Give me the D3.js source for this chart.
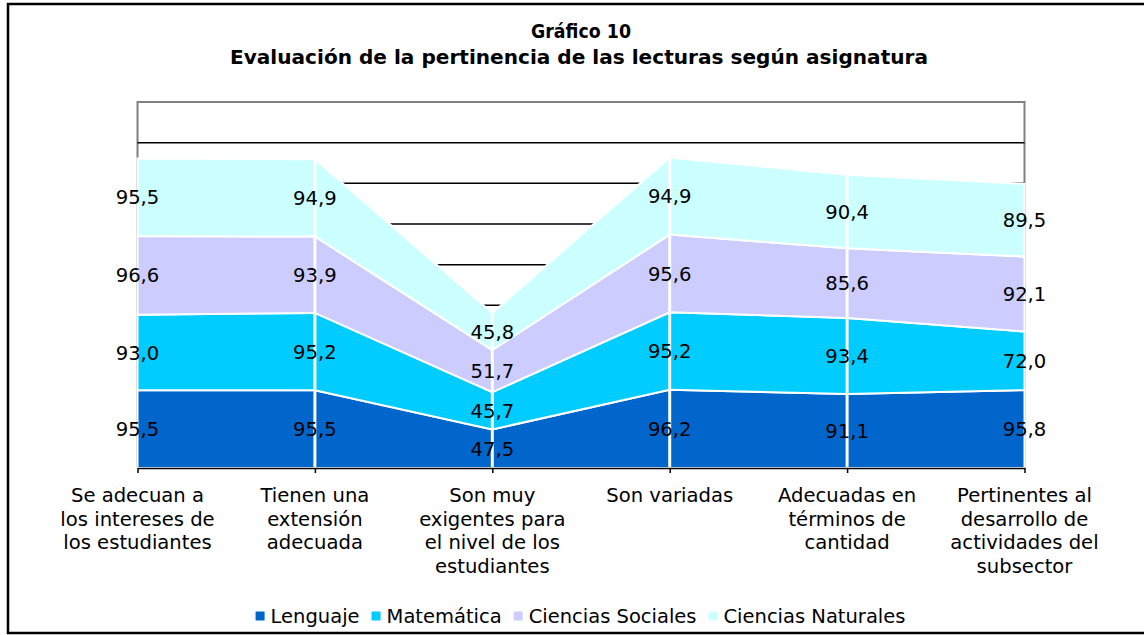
<!DOCTYPE html>
<html>
<head>
<meta charset="utf-8">
<script src="https://cdn.jsdelivr.net/npm/d3@7"></script>
<style>
  html, body { margin: 0; padding: 0; background: #fff; }
  svg { display: block; font-family: "DejaVu Sans", Verdana, sans-serif; }
</style>
</head>
<body>
<svg id="chart" width="1144" height="635"></svg>
<script>
// ---- data ----
const titleLines = ["Gráfico 10", "Evaluación de la pertinencia de las lecturas según asignatura"];
const categories = [
  ["Se adecuan a", "los intereses de", "los estudiantes"],
  ["Tienen una", "extensión", "adecuada"],
  ["Son muy", "exigentes para", "el nivel de los", "estudiantes"],
  ["Son variadas"],
  ["Adecuadas en", "términos de", "cantidad"],
  ["Pertinentes al", "desarrollo de", "actividades del", "subsector"]
];
const seriesNames = ["Lenguaje", "Matemática", "Ciencias Sociales", "Ciencias Naturales"];
const lenguaje   = [95.5, 95.5, 47.5, 96.2, 91.1, 95.8];
const matematica = [93.0, 95.2, 45.7, 95.2, 93.4, 72.0];
const sociales   = [96.6, 93.9, 51.7, 95.6, 85.6, 92.1];
const naturales  = [95.5, 94.9, 45.8, 94.9, 90.4, 89.5];
const gridTicks  = [50, 100, 150, 200, 250, 300, 350, 400];
const yMax = 450;

const colors = ["#0066CC", "#00CCFF", "#CCCCFF", "#CCFFFF"];
const fmt = v => v.toFixed(1).replace(".", ",");

(function () {
const svg = d3.select("#chart");
const seriesValues = [lenguaje, matematica, sociales, naturales];
const table = categories.map((c, i) => {
  const row = { idx: i };
  seriesNames.forEach((s, j) => row[s] = seriesValues[j][i]);
  return row;
});
const stacked = d3.stack().keys(seriesNames)(table);

const pL = 137.5, pR = 1024.5, pB = 468, pT = 102;
const x = d3.scalePoint().domain(d3.range(categories.length)).range([pL, pR]);
const y = d3.scaleLinear().domain([0, yMax]).range([pB, pT]);
const FS = 19.6;

// plot frame (gray)
svg.append("rect")
  .attr("x", pL).attr("y", y(yMax))
  .attr("width", pR - pL).attr("height", y(0) - y(yMax))
  .attr("fill", "none").attr("stroke", "#808080").attr("stroke-width", 2);

// gridlines
svg.append("g").selectAll("line").data(gridTicks).join("line")
  .attr("x1", pL).attr("x2", pR)
  .attr("y1", d => y(d)).attr("y2", d => y(d))
  .attr("stroke", "#000").attr("stroke-width", 1.5);

// areas
const area = d3.area()
  .x(d => x(d.data.idx))
  .y0(d => y(d[0]))
  .y1(d => y(d[1]));
svg.append("g").selectAll("path").data(stacked).join("path")
  .attr("d", area)
  .attr("fill", (d, i) => colors[i])
  .attr("stroke", "#fff").attr("stroke-width", 2).attr("stroke-linejoin", "miter");

// white separators at internal categories
const totals = table.map(r => d3.sum(seriesNames, s => r[s]));
svg.append("g").selectAll("line").data(d3.range(1, categories.length - 1)).join("line")
  .attr("x1", i => x(i)).attr("x2", i => x(i))
  .attr("y1", y(0)).attr("y2", i => y(totals[i]))
  .attr("stroke", "#fff").attr("stroke-width", 3);

// x axis
const xAxis = d3.axisBottom(x).tickSize(5).tickFormat("").tickSizeOuter(0);
const gx = svg.append("g").attr("transform", `translate(0,${pB})`).call(xAxis);
gx.select(".domain").attr("stroke", "#000").attr("stroke-width", 1.5);
gx.selectAll(".tick line").attr("stroke", "#000").attr("stroke-width", 1.5);

// data labels
stacked.forEach((s) => {
  svg.append("g").selectAll("text").data(s).join("text")
    .attr("x", d => x(d.data.idx))
    .attr("y", d => y((d[0] + d[1]) / 2))
    .attr("dy", "0.36em")
    .attr("text-anchor", "middle")
    .attr("font-size", FS)
    .attr("fill", "#000")
    .text(d => fmt(d[1] - d[0]));
});

// category labels
const catG = svg.append("g");
categories.forEach((lines, i) => {
  const t = catG.append("text")
    .attr("x", x(i)).attr("y", 502)
    .attr("text-anchor", "middle").attr("font-size", FS).attr("fill", "#000");
  lines.forEach((ln, k) => {
    t.append("tspan").attr("x", x(i)).attr("dy", k === 0 ? 0 : 23.7).text(ln);
  });
});

// title
svg.append("text").attr("x", 581).attr("y", 37.5).attr("text-anchor", "middle")
  .attr("font-weight", "bold").attr("font-size", 19)
  .attr("textLength", 100).attr("lengthAdjust", "spacingAndGlyphs").text(titleLines[0]);
svg.append("text").attr("x", 579).attr("y", 63.5).attr("text-anchor", "middle")
  .attr("font-weight", "bold").attr("font-size", 19)
  .attr("textLength", 698).attr("lengthAdjust", "spacingAndGlyphs").text(titleLines[1]);

// legend
const lg = svg.append("g");
let cx = 0;
const gap = 12;
seriesNames.forEach((name, i) => {
  const g = lg.append("g").attr("transform", `translate(${cx},0)`);
  g.append("rect").attr("x", 0).attr("y", -4.5).attr("width", 9).attr("height", 9).attr("fill", colors[i]);
  const t = g.append("text").attr("x", 15).attr("y", 0).attr("dy", "0.36em")
    .attr("font-size", 19.5).attr("fill", "#000").text(name);
  const w = t.node().getComputedTextLength();
  cx += 15 + w + gap;
});
const totalW = cx - gap;
lg.attr("transform", `translate(${580.5 - totalW / 2},616)`);

// outer border
svg.append("rect").attr("x", 8).attr("y", 4).attr("width", 1160).attr("height", 629)
  .attr("fill", "none").attr("stroke", "#000").attr("stroke-width", 2.5);
})();
</script>
</body>
</html>
